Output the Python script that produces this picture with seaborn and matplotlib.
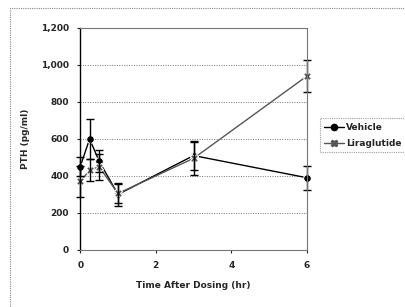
import pandas as pd
import matplotlib.pyplot as plt
import seaborn as sns

times = [0, 0.25, 0.5, 1, 3, 6]
vehicle = [450, 600, 480, 300, 510, 390]
vehicle_err = [50, 110, 60, 60, 80, 65]
lira = [370, 430, 450, 305, 495, 940]
lira_err = [85, 60, 70, 50, 90, 85]
groups = ["Vehicle", "Liraglutide"]

df = pd.DataFrame({
    "time": times * 2,
    "pth": vehicle + lira,
    "err": vehicle_err + lira_err,
    "group": [groups[0]] * len(times) + [groups[1]] * len(times),
})

sns.set_style("white")
plt.rcParams["font.family"] = ["DejaVu Sans"]
fig = plt.figure(figsize=(4.05, 3.07), dpi=100)
ax = fig.add_axes([0.198, 0.186, 0.56, 0.723])

# outer chart border like the excel chart area
fig.patches.append(plt.Rectangle((0.025, -0.02), 1.0, 0.995, transform=fig.transFigure,
                                 fill=False, ec="#888888", lw=0.8, ls=(0, (1, 1))))

colors = {"Vehicle": "black", "Liraglutide": "#555555"}
markers = {"Vehicle": "o", "Liraglutide": "X"}
sns.lineplot(data=df, x="time", y="pth", hue="group", style="group",
             palette=colors, markers=markers, dashes=False, markersize=5.5,
             linewidth=1.0, ax=ax, legend=False)
for ln in ax.lines:
    ln.set_clip_on(False)
for g in groups:
    sub = df[df.group == g]
    eb = ax.errorbar(sub.time, sub.pth, yerr=sub.err, fmt="none", ecolor="black",
                     elinewidth=1.0, capsize=3, capthick=1.0)
    for art in eb.lines[1] + eb.lines[2]:
        art.set_clip_on(False)

ax.set_xlim(0, 6)
ax.set_ylim(0, 1200)
ax.set_xticks([0, 2, 4, 6])
ax.set_yticks(range(0, 1201, 200))
ax.set_yticklabels([f"{v:,}" for v in range(0, 1201, 200)], fontweight="bold")
ax.set_xticklabels(["0", "2", "4", "6"], fontweight="bold")
ax.tick_params(axis="both", labelsize=6.5, length=2, pad=6)
ax.tick_params(axis="y", left=True)
ax.tick_params(axis="x", bottom=True)
ax.grid(axis="y", color="#777777", ls=(0, (1, 1.5)), lw=0.7)
ax.set_axisbelow(True)
for s in ["top", "right", "bottom"]:
    ax.spines[s].set_color("#777777")
    ax.spines[s].set_linestyle((0, (1, 1)))
    ax.spines[s].set_linewidth(0.8)
ax.spines["left"].set_color("black")
ax.spines["left"].set_linewidth(1.0)

ax.set_xlabel("Time After Dosing (hr)", fontsize=6.5, fontweight="bold", labelpad=8)
ax.set_ylabel("PTH (pg/ml)", fontsize=6.5, fontweight="bold", labelpad=8)

handles = [plt.Line2D([], [], color=colors[g], marker=markers[g], markersize=4.5, lw=1.0) for g in groups]
leg = fig.legend(handles, groups, loc="upper left", bbox_to_anchor=(0.79, 0.615),
                 fontsize=6.5, frameon=True, fancybox=False, handlelength=2.2,
                 handletextpad=0.2, borderpad=0.5, labelspacing=0.8, borderaxespad=0,
                 prop={"weight": "bold", "size": 6.5})
leg.get_frame().set_edgecolor("#888888")
leg.get_frame().set_linestyle((0, (1, 1)))
leg.get_frame().set_linewidth(0.8)

fig.savefig("out.png", dpi=100)
